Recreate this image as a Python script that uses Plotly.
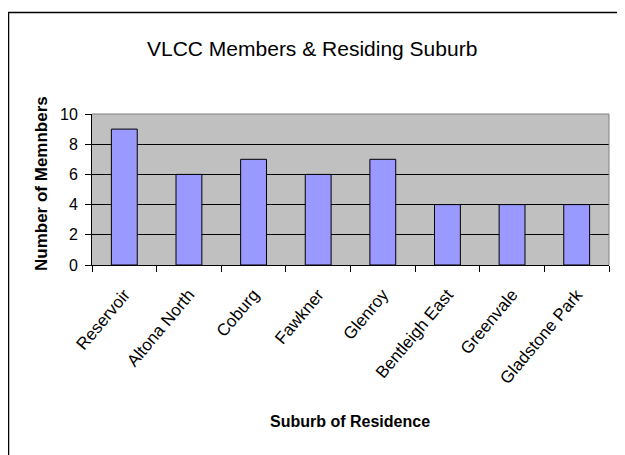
import plotly.graph_objects as go

suburbs = ["Reservoir", "Altona North", "Coburg", "Fawkner", "Glenroy",
           "Bentleigh East", "Greenvale", "Gladstone Park"]
members = [9, 6, 7, 6, 7, 4, 4, 4]
y_ticks = [0, 2, 4, 6, 8, 10]

title_text = "VLCC Members & Residing Suburb"
x_title = "Suburb of Residence"
y_title = "Number of Memnbers"

W, H = 625, 455
OFF = 8  # browser body margin
# plot area in browser pixels
PL, PR, PT, PB = 92, 609, 114, 265
L = PL - OFF
T = PT - OFF
R = W - (PR - OFF)
B = H - (PB - OFF)
pw, ph = PR - PL, PB - PT

def px(x):  # browser px -> paper x
    return (x - PL) / pw

def py(y):  # browser px -> paper y
    return (PB - y) / ph

REG = "Liberation Sans, Arial, sans-serif"

fig = go.Figure(go.Bar(
    x=suburbs, y=members,
    marker=dict(color="#9999FF", line=dict(color="black", width=1)),
    width=0.4,
))

fig.update_layout(
    width=W, height=H,
    margin=dict(l=L, r=R, t=T, b=B),
    paper_bgcolor="white",
    plot_bgcolor="#C0C0C0",
    showlegend=False,
    font=dict(family=REG, color="black"),
    xaxis=dict(
        type="category",
        showline=True, linecolor="black", linewidth=1,
        ticks="outside", tickson="boundaries", ticklen=6, tickcolor="black",
        tickangle=-50,
        ticklabelstandoff=12,
        tickfont=dict(size=17, family=REG),
        showgrid=False,
    ),
    yaxis=dict(
        range=[0, 10], tickvals=y_ticks,
        showline=True, linecolor="black", linewidth=1,
        ticks="outside", ticklen=6, tickcolor="black",
        showgrid=True, gridcolor="black", gridwidth=1,
        tickfont=dict(size=16, family=REG),
        ticklabelstandoff=4,
        zeroline=False,
    ),
    shapes=[
        dict(type="rect", xref="paper", yref="paper",
             x0=px(8.5), x1=px(650), y0=py(12.5), y1=py(480),
             line=dict(color="black", width=1.5), fillcolor="rgba(0,0,0,0)"),
        dict(type="line", xref="paper", yref="paper", x0=0, x1=1, y0=1, y1=1,
             line=dict(color="#808080", width=1), layer="above"),
        dict(type="line", xref="paper", yref="paper", x0=1, x1=1, y0=0, y1=1,
             line=dict(color="#808080", width=1), layer="above"),
    ],
    annotations=[
        dict(text=title_text, xref="paper", yref="paper", x=px(312), y=py(48),
             showarrow=False, xanchor="center", yanchor="middle",
             font=dict(size=21, family=REG)),
        dict(text="<b>" + y_title + "</b>", xref="paper", yref="paper",
             x=px(41), y=py(184), textangle=-90,
             showarrow=False, xanchor="center", yanchor="middle",
             font=dict(size=17, family=REG)),
        dict(text="<b>" + x_title + "</b>", xref="paper", yref="paper",
             x=px(350), y=py(421),
             showarrow=False, xanchor="center", yanchor="middle",
             font=dict(size=16, family=REG)),
    ],
)

fig.write_html("out.html")
